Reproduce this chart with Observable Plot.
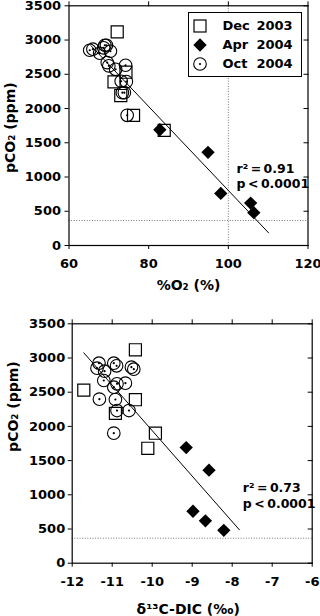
<!DOCTYPE html>
<html>
<head>
<meta charset="utf-8">
<script src="https://cdn.jsdelivr.net/npm/d3@7"></script>
<script src="https://cdn.jsdelivr.net/npm/@observablehq/plot@0.6"></script>
<style>
  html, body { margin: 0; padding: 0; background: #fff; width: 320px; height: 616px; overflow: hidden; }
  #wrap { position: relative; width: 320px; height: 616px; }
  #top, #bot { position: absolute; left: 0; }
  #top { top: 0; }
  #bot { top: 300px; }
  .legend { position: absolute; left: 187.7px; top: 11.7px; width: 114.6px; height: 65.6px;
    box-sizing: border-box; border: 1.3px solid #000; background: #fff;
    font-family: "DejaVu Sans", sans-serif; font-weight: bold; font-size: 13px; color: #000; }
  .legend .sym { position: absolute; width: 16px; height: 16px; }
  .legend .lab, .legend .yr { position: absolute; line-height: 16px; white-space: nowrap; }
</style>
</head>
<body>
<div id="wrap">
  <div id="top"></div>
  <div id="bot"></div>
  <div class="legend" id="legend"></div>
</div>
<script>
// ---------- data ----------
const yTicks = [0, 500, 1000, 1500, 2000, 2500, 3000, 3500];
const o2Ticks = [60, 80, 100, 120];
const d13cTicks = [-12, -11, -10, -9, -8, -7, -6];

const seriesNames = ["Dec", "Apr", "Oct"];
const seriesYears = ["2003", "2004", "2004"];

// Dec 2003 (open squares)
const decPco2 = [3120, 2530, 2390, 2190, 1900, 1680];
const decO2   = [72.1, 74.3, 71.3, 73.0, 76.2, 83.9];
const decD13C = [-10.42, -11.71, -10.42, -10.92, -9.92, -10.11];

// Apr 2004 (filled diamonds)
const aprPco2 = [1690, 1360, 760, 620, 480];
const aprO2   = [82.8, 94.9, 98.1, 105.6, 106.4];
const aprD13C = [-9.15, -8.58, -8.98, -8.67, -8.21];

// Oct 2004 (dotted circles)
const octPco2 = [2924, 2924, 2886, 2866, 2851, 2836, 2807, 2671, 2632, 2623, 2573, 2398, 2393, 2232, 2232, 1901];
const octO2   = [69.4, 69.0, 68.7, 66.0, 65.2, 70.4, 67.7, 69.6, 74.2, 70.0, 71.7, 73.1, 74.4, 73.4, 73.9, 74.6];
const octD13C = [-11.33, -10.96, -10.89, -10.52, -11.38, -10.46, -11.19, -11.21, -10.67, -10.88, -10.96, -11.32, -10.92, -10.88, -10.58, -10.96];

// regression lines (end points)
const fitO2X = [65.5, 110.1];
const fitO2Y = [2918, 185];
const fitD13CX = [-11.71, -7.82];
const fitD13CY = [3076, 488];

// reference levels
const atmPco2 = 365;
const o2Sat = 100;

// annotations
const statsO2 = ["r\u00B2\u2009=\u20090.91", "p\u2009<\u20090.0001"];
const statsD13C = ["r\u00B2\u2009=\u20090.73", "p\u2009<\u20090.0001"];
const statsO2Pos = {x: 102.05, y: [1110, 895]};
const statsD13CPos = {x: -7.735, y: [1097, 868]};

const yLabel = "pCO\u2082 (ppm)";
const xLabelO2 = "%O\u2082 (%)";
const xLabelD13C = "\u03B4\u00B9\u00B3C-DIC (\u2030)";

// ---------- helpers ----------
const pts = (xs, ys) => ys.map((y, i) => ({x: xs[i], y}));
const fmt = d => String(d);

function panel(o) {
  const dec = pts(o.decX, decPco2);
  const apr = pts(o.aprX, aprPco2);
  const oct = pts(o.octX, octPco2);
  const fit = pts(o.fitX, o.fitY);
  const ann = o.stats.map((t, i) => ({x: o.statsPos.x, y: o.statsPos.y[i], t}));
  const marks = [
    Plot.ruleY([atmPco2], {stroke: "#777", strokeWidth: 1, strokeDasharray: "1,1.6"}),
  ];
  if (o.vref != null) marks.push(Plot.ruleX([o.vref], {stroke: "#777", strokeWidth: 1, strokeDasharray: "1,1.6"}));
  marks.push(
    Plot.line(fit, {x: "x", y: "y", stroke: "#000", strokeWidth: 1}),
    Plot.dot(dec, {x: "x", y: "y", symbol: "square", r: 6.8, stroke: "#000", fill: "none", strokeWidth: 1.2}),
    Plot.dot(apr, {x: "x", y: "y", symbol: "diamond2", r: 6, fill: "#000", stroke: "none"}),
    Plot.dot(oct, {x: "x", y: "y", symbol: "circle", r: 6.3, stroke: "#000", fill: "none", strokeWidth: 1.1}),
    Plot.dot(oct, {x: "x", y: "y", symbol: "circle", r: 1.1, fill: "#000", stroke: "none"}),
    Plot.frame({stroke: "#000", strokeWidth: 1.2}),
    Plot.axisY({ticks: yTicks, tickSize: 4, tickPadding: o.yPad, tickFormat: fmt, label: null}),
    Plot.axisY({anchor: "right", ticks: yTicks, tickSize: -5, tickFormat: () => "", label: null}),
    Plot.axisX({ticks: o.xTicks, tickSize: 4, tickPadding: o.xPad, tickFormat: fmt, label: null}),
    Plot.axisX({anchor: "top", ticks: o.xTicks, tickSize: 5, tickFormat: () => "", label: null}),
    Plot.text(ann, {x: "x", y: "y", text: "t", textAnchor: "start", lineAnchor: "middle", fontSize: 12.5}),
    Plot.text([o.xLabel], {text: d => d, frameAnchor: "bottom", textAnchor: "middle", lineAnchor: "middle",
      dx: o.xLabelDx, dy: o.xLabelDy, fontSize: 14}),
    Plot.text([yLabel], {text: d => d, y: () => o.yLabelAt, frameAnchor: "left", textAnchor: "middle", lineAnchor: "middle",
      rotate: -90, dx: -58.5, fontSize: 14})
  );
  return Plot.plot({
    width: 320,
    height: o.height,
    marginTop: o.mt, marginBottom: o.mb, marginLeft: o.ml, marginRight: o.mr,
    x: {domain: o.xDomain, nice: false},
    y: {domain: [0, 3500], nice: false},
    style: {fontFamily: "DejaVu Sans", fontWeight: "bold", fontSize: "13px", color: "#000", background: "transparent", overflow: "visible"},
    marks
  });
}

document.getElementById("top").appendChild(panel({
  height: 300, mt: 5.3, mb: 55, ml: 68.5, mr: 12.5,
  xDomain: [60, 120], xTicks: o2Ticks,
  decX: decO2, aprX: aprO2, octX: octO2,
  fitX: fitO2X, fitY: fitO2Y,
  stats: statsO2, statsPos: statsO2Pos,
  vref: o2Sat, xLabel: xLabelO2,
  xPad: 9, yPad: 4, xLabelDx: 0, xLabelDy: 40.5, yLabelAt: 1720
}));

document.getElementById("bot").appendChild(panel({
  height: 316, mt: 23.3, mb: 53.3, ml: 71.7, mr: 8.3,
  xDomain: [-12, -6], xTicks: d13cTicks,
  decX: decD13C, aprX: aprD13C, octX: octD13C,
  fitX: fitD13CX, fitY: fitD13CY,
  stats: statsD13C, statsPos: statsD13CPos,
  vref: null, xLabel: xLabelD13C,
  xPad: 10, yPad: 3, xLabelDx: -4, xLabelDy: 46.5, yLabelAt: 2290
}));

// ---------- legend ----------
const legend = document.getElementById("legend");
const symSvg = [
  '<rect x="2" y="2" width="12" height="12" fill="none" stroke="#000" stroke-width="1.2"/>',
  '<path d="M8,1.3 L14.7,8 L8,14.7 L1.3,8 Z" fill="#000"/>',
  '<circle cx="8" cy="8" r="6.3" fill="none" stroke="#000" stroke-width="1.1"/><circle cx="8" cy="8" r="1.1" fill="#000"/>'
];
const rowCenters = [14.3, 33.6, 52.3];
seriesNames.forEach((name, i) => {
  const c = rowCenters[i];
  const s = document.createElement("div");
  s.className = "sym";
  s.style.left = (12.3 - 8 - 1.3) + "px";
  s.style.top = (c - 8 - 1.3) + "px";
  s.innerHTML = '<svg width="16" height="16" viewBox="0 0 16 16">' + symSvg[i] + '</svg>';
  legend.appendChild(s);
  const l = document.createElement("div");
  l.className = "lab";
  l.style.left = (35 - 1.3) + "px";
  l.style.top = (c - 8 - 1.3) + "px";
  l.textContent = name;
  legend.appendChild(l);
  const y = document.createElement("div");
  y.className = "yr";
  y.style.left = (69 - 1.3) + "px";
  y.style.top = (c - 8 - 1.3) + "px";
  y.textContent = seriesYears[i];
  legend.appendChild(y);
});
</script>
</body>
</html>
